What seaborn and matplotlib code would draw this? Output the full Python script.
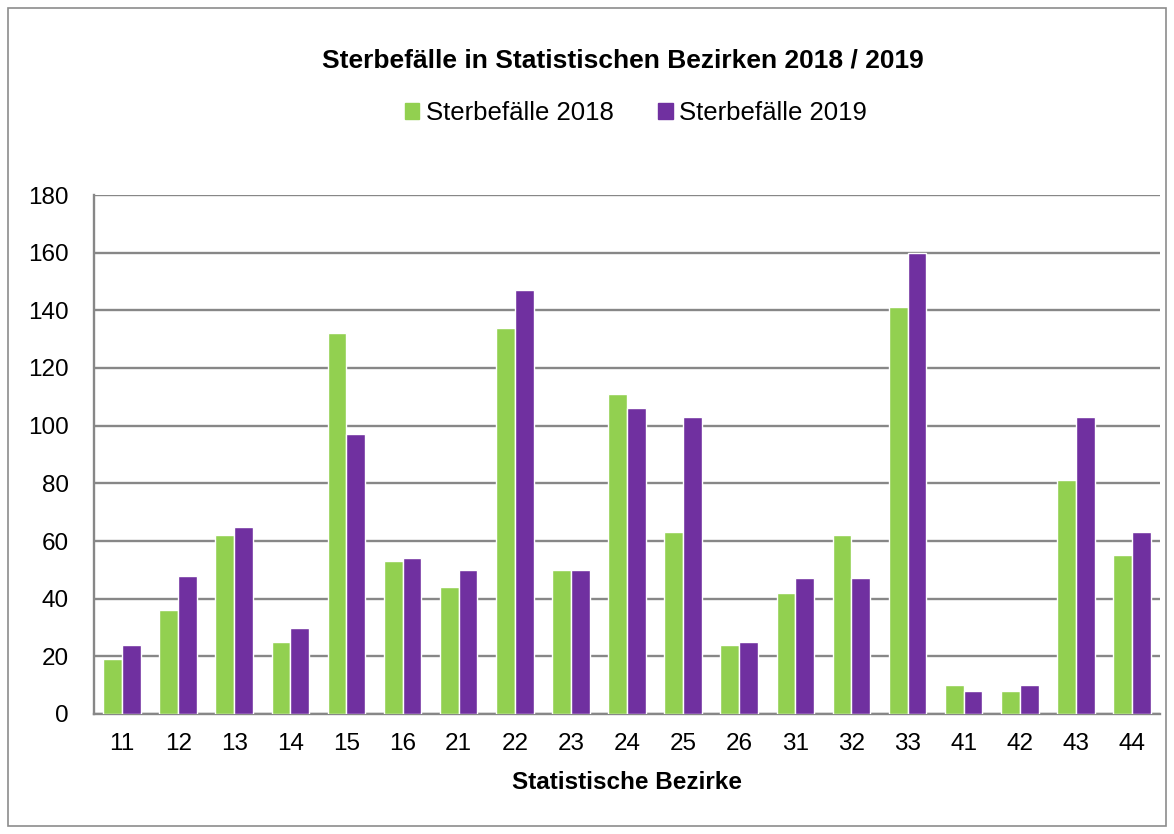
import pandas as pd
import numpy as np
import seaborn as sns
import matplotlib.pyplot as plt
from matplotlib.patches import Rectangle
from matplotlib.ticker import FixedLocator

# Daten: Sterbefälle je statistischem Bezirk
bezirke = ['11', '12', '13', '14', '15', '16', '21', '22', '23', '24',
           '25', '26', '31', '32', '33', '41', '42', '43', '44']
sterbe_2018 = [19, 36, 62, 25, 132, 53, 44, 134, 50, 111,
               63, 24, 42, 62, 141, 10, 8, 81, 55]
sterbe_2019 = [24, 48, 65, 30, 97, 54, 50, 147, 50, 106,
               103, 25, 47, 47, 160, 8, 10, 103, 63]
serien = ['Sterbefälle 2018', 'Sterbefälle 2019']
farben = ['#92D050', '#7030A0']
y_ticks = list(range(0, 181, 20))

df = pd.DataFrame({
    'Bezirk': bezirke * 2,
    'Wert': sterbe_2018 + sterbe_2019,
    'Serie': [serien[0]] * len(bezirke) + [serien[1]] * len(bezirke),
})

sns.set_theme(style='white')
plt.rcParams['font.family'] = ['Liberation Sans', 'DejaVu Sans']
plt.rcParams.update({'text.color': 'black', 'axes.labelcolor': 'black',
                     'xtick.labelcolor': 'black', 'ytick.labelcolor': 'black'})

fig = plt.figure(figsize=(11.74, 8.34), dpi=100)
ax = fig.add_axes([94 / 1174, 1 - 714 / 834, 1066 / 1174, 519 / 834])

sns.barplot(data=df, x='Bezirk', y='Wert', hue='Serie', palette=farben,
            order=bezirke, hue_order=serien, width=0.67, saturation=1,
            ax=ax, legend=False, zorder=3)

grau = '#878787'
ax.set_ylim(0, 180)
ax.set_xlim(-0.5, len(bezirke) - 0.5)
ax.set_yticks(y_ticks)
ax.yaxis.grid(True, color=grau, linewidth=1.7, zorder=0)
ax.set_axisbelow(True)

for s in ['top', 'right']:
    ax.spines[s].set_visible(False)
for s in ['left', 'bottom']:
    ax.spines[s].set_color(grau)
    ax.spines[s].set_linewidth(1.7)

# Teilstriche zwischen den Kategorien
ax.xaxis.set_minor_locator(FixedLocator(np.arange(-0.5, len(bezirke), 1)))
ax.tick_params(axis='x', which='major', length=0, pad=14, labelsize=17.5)
ax.tick_params(axis='x', which='minor', length=5.5, width=1.6, color=grau, direction='out')
ax.tick_params(axis='y', which='major', length=6, width=1.6, color=grau,
               direction='out', pad=12, labelsize=17.5)

ax.set_xlabel('Statistische Bezirke', fontsize=17.5, fontweight='bold', labelpad=11)
ax.set_ylabel('')

fig.text(623 / 1174, 1 - 60 / 834, 'Sterbefälle in Statistischen Bezirken 2018 / 2019',
         ha='center', va='center', fontsize=19, fontweight='bold')

handles = [Rectangle((0, 0), 1, 1, color=c) for c in farben]
fig.legend(handles, serien, loc='center', bbox_to_anchor=(636 / 1174, 1 - 113 / 834),
           ncol=2, frameon=False, fontsize=18.5, handlelength=0.55, handleheight=0.55,
           handletextpad=0.25, columnspacing=1.75)

# Rahmen um das Diagramm
fig.patches.append(Rectangle((8 / 1174, 8 / 834), 1158 / 1174, 818 / 834,
                             transform=fig.transFigure, fill=False,
                             edgecolor='#8c8c8c', linewidth=1.2))

fig.savefig('out.png', dpi=100)
